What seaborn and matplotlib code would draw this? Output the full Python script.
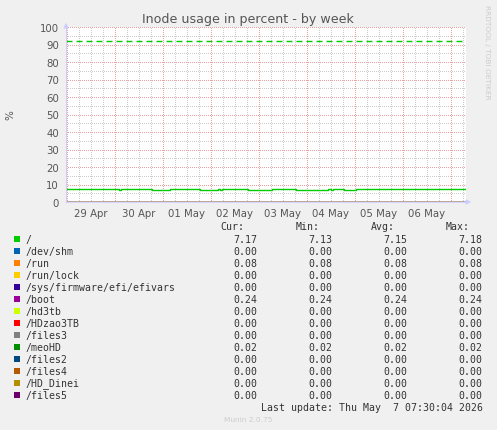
import matplotlib
matplotlib.use("Agg")
import numpy as np
import pandas as pd
import matplotlib.pyplot as plt
import matplotlib.dates as mdates
from matplotlib.patches import Rectangle
from matplotlib.ticker import MultipleLocator, FuncFormatter, NullFormatter
import seaborn as sns

W, H = 497, 431

# ── Data ──────────────────────────────────────────────────────────────────────

MOUNTS = ["/", "/dev/shm", "/run", "/run/lock", "/sys/firmware/efi/efivars",
          "/boot", "/hd3tb", "/HDzao3TB", "/files3", "/meoHD", "/files2",
          "/files4", "/HD_Dinei", "/files5"]
COLORS = ["#00CC00", "#0066B3", "#FF8000", "#FFCC00", "#330099", "#990099",
          "#CCFF00", "#FF0000", "#808080", "#008F00", "#00487D", "#B35A00",
          "#B38F00", "#6B006B"]
CUR = [7.17, 0.00, 0.08, 0.00, 0.00, 0.24, 0.00, 0.00, 0.00, 0.02, 0.00, 0.00, 0.00, 0.00]
MIN = [7.13, 0.00, 0.08, 0.00, 0.00, 0.24, 0.00, 0.00, 0.00, 0.02, 0.00, 0.00, 0.00, 0.00]
AVG = [7.15, 0.00, 0.08, 0.00, 0.00, 0.24, 0.00, 0.00, 0.00, 0.02, 0.00, 0.00, 0.00, 0.00]
MAX = [7.18, 0.00, 0.08, 0.00, 0.00, 0.24, 0.00, 0.00, 0.00, 0.02, 0.00, 0.00, 0.00, 0.00]

START = "2026-04-28 23:30"
END   = "2026-05-07 07:30"

# "/" usage, step changes
ROOT_TIMES = ["2026-04-28 23:30", "2026-04-30 02:00", "2026-04-30 03:00",
              "2026-04-30 18:30", "2026-05-01 03:30", "2026-05-01 18:30",
              "2026-05-02 03:30", "2026-05-02 04:30", "2026-05-02 05:30",
              "2026-05-02 18:30", "2026-05-03 06:30", "2026-05-03 18:30",
              "2026-05-04 10:30", "2026-05-04 12:00", "2026-05-04 13:00",
              "2026-05-04 18:30", "2026-05-05 00:30", "2026-05-07 07:30"]
ROOT_VALUES = [7.17, 7.13, 7.17, 7.13, 7.17, 7.13, 7.17, 7.13, 7.17,
               7.13, 7.17, 7.13, 7.17, 7.13, 7.17, 7.13, 7.17, 7.17]

WARNING = 92

TITLE = "Inode usage in percent - by week"
LAST_UPDATE = "Last update: Thu May  7 07:30:04 2026"


# ── Helpers ───────────────────────────────────────────────────────────────────

def fx(x):
    return x / W


def fy(y):
    return 1 - y / H


# ── Plot ──────────────────────────────────────────────────────────────────────

sns.set_style("white")
plt.rcParams["font.family"] = ["DejaVu Sans"]

fig = plt.figure(figsize=(W / 100, H / 100), dpi=100, facecolor="#f0f0f0")
ax = fig.add_axes([fx(66), fy(203), 400 / W, 175 / H])
ax.set_facecolor("white")

root = pd.DataFrame({"time": pd.to_datetime(ROOT_TIMES), "value": ROOT_VALUES})
sns.lineplot(data=root, x="time", y="value", color=COLORS[0], lw=1.0,
             drawstyle="steps-post", ax=ax)

rest = pd.DataFrame([
    {"mount": m, "time": pd.Timestamp(t), "value": v}
    for m, v in zip(MOUNTS[1:], CUR[1:])
    for t in (START, END)
])
sns.lineplot(data=rest, x="time", y="value", hue="mount", hue_order=MOUNTS[1:],
             palette=dict(zip(MOUNTS, COLORS)), lw=0.8, legend=False, ax=ax)

ax.axhline(WARNING, color=COLORS[0], lw=1.0, ls=(0, (4.3, 2.9)))

ax.set_xlim(pd.Timestamp(START), pd.Timestamp(END))
ax.set_ylim(0, 100)
ax.yaxis.set_major_locator(MultipleLocator(10))
ax.yaxis.set_minor_locator(MultipleLocator(5))
ax.xaxis.set_major_locator(mdates.DayLocator())
ax.xaxis.set_minor_locator(mdates.HourLocator(byhour=[6, 12, 18]))
ax.xaxis.set_major_formatter(NullFormatter())
ax.xaxis.set_minor_formatter(FuncFormatter(
    lambda v, pos: mdates.num2date(v).strftime("%d %b")
    if mdates.num2date(v).hour == 12 else ""))

# dotted grid: short dashes inside one pixel, crisp (no antialiasing)
dots = (0.25, (0.5, 1.5))
ax.grid(which="major", color="#e8a0a0", ls=dots, lw=0.72, antialiased=False)
ax.grid(which="minor", color="#cccccc", ls=dots, lw=0.72, antialiased=False)
ax.set_axisbelow(True)

ax.tick_params(axis="y", which="major", labelsize=7.3, labelcolor="#555555",
               length=1.5, color="#e8a0a0", pad=3.5)
ax.tick_params(axis="y", which="minor", length=1.5, color="#cccccc")
ax.tick_params(axis="x", which="major", length=2, color="#e8a0a0")
ax.tick_params(axis="x", which="minor", length=2, color="#cccccc",
               labelsize=7.3, labelcolor="#555555", pad=2.5)
ax.set_xlabel("")
ax.set_ylabel("")

for side in ("top", "right"):
    ax.spines[side].set_visible(False)
for side in ("left", "bottom"):
    ax.spines[side].set_color("#ccccff")
    ax.spines[side].set_linewidth(0.8)
ax.spines["bottom"].set_alpha(0.7)
ax.spines["bottom"].set_zorder(5)

# axis arrows
ax.annotate("", xy=(0, 1.04), xytext=(0, 0.99), xycoords="axes fraction",
            arrowprops=dict(arrowstyle="-|>", color="#ccccff", lw=0.8,
                            mutation_scale=7))
ax.annotate("", xy=(1.02, 0), xytext=(0.99, 0), xycoords="axes fraction",
            arrowprops=dict(arrowstyle="-|>", color="#ccccff", lw=0.8,
                            mutation_scale=7))

# titles and side texts
fig.text(fx(248), fy(19), TITLE, ha="center", va="center",
         fontsize=9.1, color="#555555")
fig.text(fx(10), fy(115), "%", ha="center", va="center", rotation=90,
         fontsize=7.5, color="#555555")
fig.text(fx(487), fy(5), "RRDTOOL / TOBI OETIKER", ha="center", va="top",
         rotation=270, fontsize=5.3, color="#cccccc")

# ── Legend table ──────────────────────────────────────────────────────────────

mono = "DejaVu Sans Mono"
fs = 7.1
txt = "#333333"
col_right = [257, 332.3, 407.3, 482.7]
for x, head in zip(col_right, ["Cur:", "Min:", "Avg:", "Max:"]):
    fig.text(fx(x - 12.7), fy(227.3), head, ha="right", va="center",
             family=mono, fontsize=fs, color=txt)

for i, (m, c) in enumerate(zip(MOUNTS, COLORS)):
    y = 239.7 + 12 * i
    fig.patches.append(Rectangle((fx(14), fy(y + 3)), 6 / W, 6 / H,
                                 transform=fig.transFigure, facecolor=c,
                                 edgecolor="none"))
    fig.text(fx(26), fy(y), m, ha="left", va="center",
             family=mono, fontsize=fs, color=txt)
    for x, vals in zip(col_right, [CUR, MIN, AVG, MAX]):
        fig.text(fx(x), fy(y), f"{vals[i]:.2f}", ha="right", va="center",
                 family=mono, fontsize=fs, color=txt)

fig.text(fx(482.7), fy(407.7), LAST_UPDATE, ha="right", va="center",
         family=mono, fontsize=fs, color=txt)
fig.text(fx(248), fy(420), "Munin 2.0.75", ha="center", va="center",
         fontsize=5.3, color="#cccccc")

fig.savefig("out.png", dpi=100, facecolor=fig.get_facecolor())
